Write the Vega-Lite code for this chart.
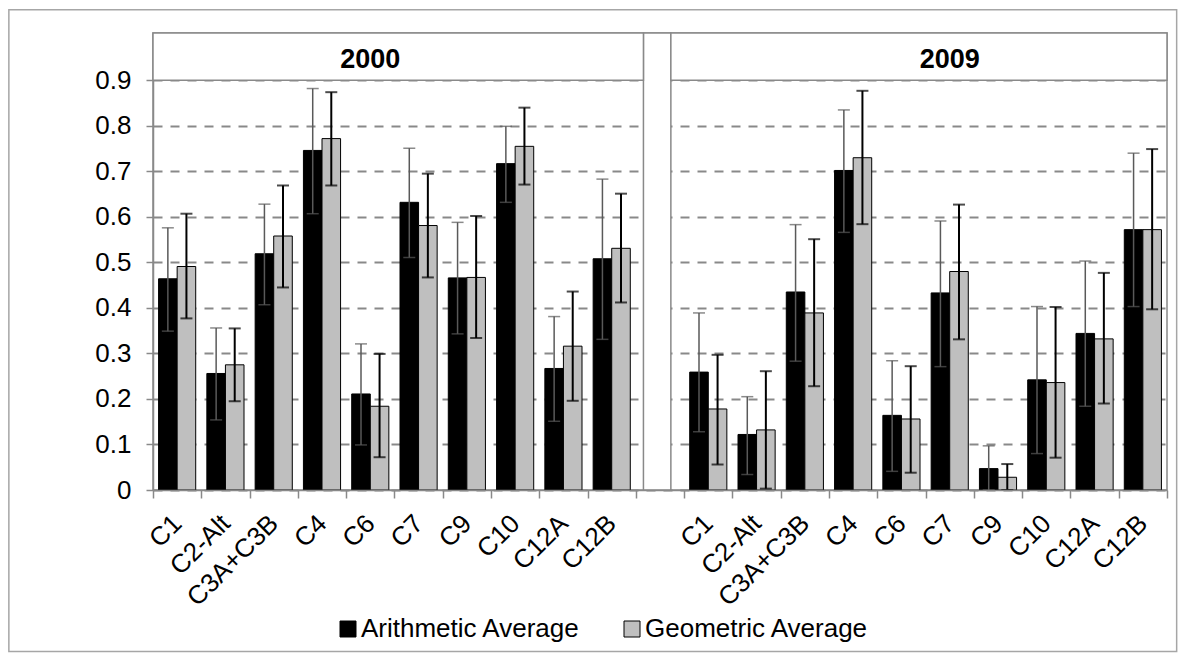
{
  "$schema": "https://vega.github.io/schema/vega-lite/v6.json",
  "width": 1014,
  "height": 457,
  "autosize": {"type": "none"},
  "padding": {"left": 153, "top": 33, "right": 19, "bottom": 171},
  "background": "white",
  "config": {
    "view": {"stroke": "#898989", "strokeWidth": 1.5},
    "font": "Liberation Sans"
  },
  "datasets": {
    "bars": [
      {"x": "C1", "type": "Arithmetic Average", "value": 0.464, "lo": 0.349, "hi": 0.576},
      {"x": "C1", "type": "Geometric Average", "value": 0.491, "lo": 0.377, "hi": 0.607},
      {"x": "C2-Alt", "type": "Arithmetic Average", "value": 0.256, "lo": 0.154, "hi": 0.356},
      {"x": "C2-Alt", "type": "Geometric Average", "value": 0.275, "lo": 0.195, "hi": 0.355},
      {"x": "C3A+C3B", "type": "Arithmetic Average", "value": 0.519, "lo": 0.407, "hi": 0.628},
      {"x": "C3A+C3B", "type": "Geometric Average", "value": 0.558, "lo": 0.445, "hi": 0.669},
      {"x": "C4", "type": "Arithmetic Average", "value": 0.746, "lo": 0.607, "hi": 0.882},
      {"x": "C4", "type": "Geometric Average", "value": 0.772, "lo": 0.669, "hi": 0.874},
      {"x": "C6", "type": "Arithmetic Average", "value": 0.211, "lo": 0.099, "hi": 0.321},
      {"x": "C6", "type": "Geometric Average", "value": 0.184, "lo": 0.072, "hi": 0.299},
      {"x": "C7", "type": "Arithmetic Average", "value": 0.632, "lo": 0.511, "hi": 0.751},
      {"x": "C7", "type": "Geometric Average", "value": 0.581, "lo": 0.467, "hi": 0.695},
      {"x": "C9", "type": "Arithmetic Average", "value": 0.466, "lo": 0.343, "hi": 0.588},
      {"x": "C9", "type": "Geometric Average", "value": 0.467, "lo": 0.334, "hi": 0.602},
      {"x": "C10", "type": "Arithmetic Average", "value": 0.717, "lo": 0.632, "hi": 0.799},
      {"x": "C10", "type": "Geometric Average", "value": 0.755, "lo": 0.671, "hi": 0.840},
      {"x": "C12A", "type": "Arithmetic Average", "value": 0.267, "lo": 0.151, "hi": 0.381},
      {"x": "C12A", "type": "Geometric Average", "value": 0.316, "lo": 0.196, "hi": 0.436},
      {"x": "C12B", "type": "Arithmetic Average", "value": 0.508, "lo": 0.331, "hi": 0.683},
      {"x": "C12B", "type": "Geometric Average", "value": 0.531, "lo": 0.412, "hi": 0.651},
      {"x": " C1", "type": "Arithmetic Average", "value": 0.259, "lo": 0.128, "hi": 0.389},
      {"x": " C1", "type": "Geometric Average", "value": 0.178, "lo": 0.056, "hi": 0.297},
      {"x": " C2-Alt", "type": "Arithmetic Average", "value": 0.122, "lo": 0.034, "hi": 0.205},
      {"x": " C2-Alt", "type": "Geometric Average", "value": 0.132, "lo": 0.003, "hi": 0.261},
      {"x": " C3A+C3B", "type": "Arithmetic Average", "value": 0.435, "lo": 0.283, "hi": 0.583},
      {"x": " C3A+C3B", "type": "Geometric Average", "value": 0.389, "lo": 0.228, "hi": 0.551},
      {"x": " C4", "type": "Arithmetic Average", "value": 0.702, "lo": 0.566, "hi": 0.835},
      {"x": " C4", "type": "Geometric Average", "value": 0.730, "lo": 0.584, "hi": 0.877},
      {"x": " C6", "type": "Arithmetic Average", "value": 0.164, "lo": 0.041, "hi": 0.284},
      {"x": " C6", "type": "Geometric Average", "value": 0.156, "lo": 0.038, "hi": 0.272},
      {"x": " C7", "type": "Arithmetic Average", "value": 0.433, "lo": 0.271, "hi": 0.591},
      {"x": " C7", "type": "Geometric Average", "value": 0.480, "lo": 0.331, "hi": 0.627},
      {"x": " C9", "type": "Arithmetic Average", "value": 0.047, "lo": 0.0, "hi": 0.097},
      {"x": " C9", "type": "Geometric Average", "value": 0.028, "lo": 0.0, "hi": 0.057},
      {"x": " C10", "type": "Arithmetic Average", "value": 0.242, "lo": 0.080, "hi": 0.403},
      {"x": " C10", "type": "Geometric Average", "value": 0.236, "lo": 0.071, "hi": 0.402},
      {"x": " C12A", "type": "Arithmetic Average", "value": 0.344, "lo": 0.184, "hi": 0.503},
      {"x": " C12A", "type": "Geometric Average", "value": 0.332, "lo": 0.190, "hi": 0.477},
      {"x": " C12B", "type": "Arithmetic Average", "value": 0.572, "lo": 0.403, "hi": 0.740},
      {"x": " C12B", "type": "Geometric Average", "value": 0.572, "lo": 0.397, "hi": 0.749}
    ],
    "panels": [
      {"year": "2000", "start": "C1", "end": " ", "anchor": "C6"},
      {"year": "2009", "start": " ", "end": " C12B", "anchor": " C7"}
    ],
    "gap": [{"x": " "}],
    "frame": [{"from": "C1", "to": " C12B"}]
  },
  "encoding": {
    "x": {
      "type": "nominal",
      "scale": {"domain": ["C1", "C2-Alt", "C3A+C3B", "C4", "C6", "C7", "C9", "C10", "C12A", "C12B", " ", " C1", " C2-Alt", " C3A+C3B", " C4", " C6", " C7", " C9", " C10", " C12A", " C12B"], "paddingInner": 0, "paddingOuter": 0}
    }
  },
  "layer": [
    {
      "data": {"name": "frame"},
      "mark": {"type": "rect", "filled": false, "stroke": "#a6a6a6", "strokeWidth": 1.5},
      "encoding": {
        "x": {"field": "from", "type": "nominal", "bandPosition": -2.985},
        "x2": {"field": "to", "bandPosition": 1.2},
        "y": {"datum": -0.355},
        "y2": {"datum": 1.055}
      }
    },
    {
      "data": {"name": "bars"},
      "mark": {"type": "bar", "stroke": "#000000", "strokeWidth": 1},
      "encoding": {
        "x": {
          "field": "x", "type": "nominal",
          "axis": {
            "title": null, "labelAngle": -45, "labelAlign": "right", "labelBaseline": "middle",
            "labelFontSize": 26, "labelColor": "#000000", "labelFont": "Liberation Sans",
            "tickBand": "extent", "tickSize": 8, "tickColor": "#898989", "tickWidth": 1.5,
            "domainColor": "#898989", "domainWidth": 1.5, "labelPadding": 21, "labelOverlap": false,
            "grid": false
          }
        },
        "xOffset": {"field": "type", "type": "nominal", "scale": {"domain": ["Arithmetic Average", "Geometric Average"], "paddingOuter": 0.3, "paddingInner": 0}},
        "y": {
          "field": "value", "type": "quantitative", "stack": null,
          "scale": {"domain": [0, 1.004], "nice": false, "zero": true},
          "axis": {
            "title": null, "values": [0, 0.1, 0.2, 0.3, 0.4, 0.5, 0.6, 0.7, 0.8, 0.9], "format": "~g",
            "grid": true, "gridDash": [9, 8], "gridColor": "#898989", "gridWidth": 2,
            "tickSize": 7, "tickColor": "#898989", "tickWidth": 1.5,
            "domainColor": "#898989", "domainWidth": 1.5,
            "labelFontSize": 26, "labelColor": "#000000", "labelFont": "Liberation Sans", "labelPadding": 15
          }
        },
        "color": {
          "field": "type", "type": "nominal",
          "scale": {"domain": ["Arithmetic Average", "Geometric Average"], "range": ["#000000", "#BFBFBF"]},
          "legend": {
            "orient": "none", "legendX": 182, "legendY": 583, "direction": "horizontal", "title": null,
            "symbolType": "square", "symbolSize": 256, "symbolStrokeColor": "#000000", "symbolStrokeWidth": 1,
            "labelFontSize": 26, "labelFont": "Liberation Sans", "labelColor": "#000000",
            "labelOffset": 0, "columnPadding": 38, "labelLimit": 400
          }
        }
      }
    },
    {
      "data": {"name": "bars"},
      "transform": [{"filter": "datum.type === 'Arithmetic Average'"}],
      "encoding": {
        "x": {"field": "x", "type": "nominal"},
        "xOffset": {"field": "type", "type": "nominal"}
      },
      "layer": [
        {"mark": {"type": "rule", "color": "#595959", "strokeWidth": 1.5}, "encoding": {"y": {"field": "lo", "type": "quantitative"}, "y2": {"field": "hi"}}},
        {"mark": {"type": "tick", "color": "#595959", "thickness": 1.5, "size": 12}, "encoding": {"y": {"field": "lo", "type": "quantitative"}}},
        {"mark": {"type": "tick", "color": "#595959", "thickness": 1.5, "size": 12}, "encoding": {"y": {"field": "hi", "type": "quantitative"}}}
      ]
    },
    {
      "data": {"name": "bars"},
      "transform": [{"filter": "datum.type === 'Geometric Average'"}],
      "encoding": {
        "x": {"field": "x", "type": "nominal"},
        "xOffset": {"field": "type", "type": "nominal"}
      },
      "layer": [
        {"mark": {"type": "rule", "color": "#000000", "strokeWidth": 2}, "encoding": {"y": {"field": "lo", "type": "quantitative"}, "y2": {"field": "hi"}}},
        {"mark": {"type": "tick", "color": "#000000", "thickness": 2, "size": 12}, "encoding": {"y": {"field": "lo", "type": "quantitative"}}},
        {"mark": {"type": "tick", "color": "#000000", "thickness": 2, "size": 12}, "encoding": {"y": {"field": "hi", "type": "quantitative"}}}
      ]
    },
    {
      "data": {"name": "gap"},
      "mark": {"type": "rect", "fill": "white", "stroke": "#898989", "strokeWidth": 1.5},
      "encoding": {
        "x": {"field": "x", "type": "nominal", "bandPosition": 0.157},
        "x2": {"field": "x", "bandPosition": 0.725},
        "y": {"datum": 0},
        "y2": {"datum": 1.004}
      }
    },
    {
      "data": {"name": "panels"},
      "transform": [{"filter": "datum.year === '2000'"}],
      "mark": {"type": "rect", "fill": "white", "stroke": "#898989", "strokeWidth": 1.5},
      "encoding": {
        "x": {"field": "start", "type": "nominal", "bandPosition": 0},
        "x2": {"field": "end", "bandPosition": 0.157},
        "y": {"datum": 0.9},
        "y2": {"datum": 1.004}
      }
    },
    {
      "data": {"name": "panels"},
      "transform": [{"filter": "datum.year === '2009'"}],
      "mark": {"type": "rect", "fill": "white", "stroke": "#898989", "strokeWidth": 1.5},
      "encoding": {
        "x": {"field": "start", "type": "nominal", "bandPosition": 0.725},
        "x2": {"field": "end", "bandPosition": 1},
        "y": {"datum": 0.9},
        "y2": {"datum": 1.004}
      }
    },
    {
      "data": {"name": "panels"},
      "mark": {"type": "text", "font": "Liberation Sans", "fontSize": 27, "fontWeight": "bold", "color": "#000000", "baseline": "middle", "align": "center"},
      "encoding": {
        "x": {"field": "anchor", "type": "nominal"},
        "y": {"datum": 0.944},
        "text": {"field": "year"}
      }
    }
  ]
}
